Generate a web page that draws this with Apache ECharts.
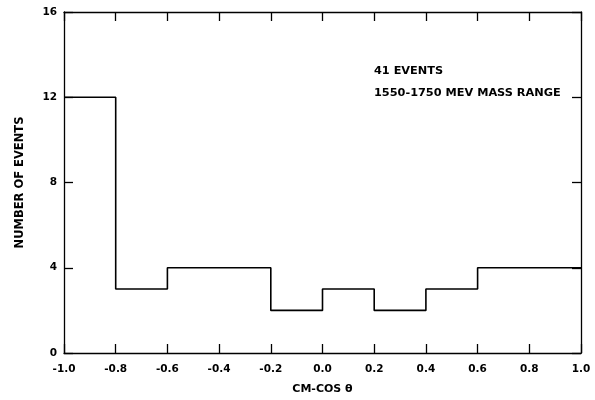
<!DOCTYPE html>
<html><head><meta charset="utf-8">
<script src="https://cdn.jsdelivr.net/npm/echarts@6/dist/echarts.min.js"></script>
<style>html,body{margin:0;padding:0;background:#fff}#c{width:595px;height:400px}</style>
</head><body><div id="c"></div>
<script>
const binEdges = [-1.0, -0.8, -0.6, -0.4, -0.2, 0.0, 0.2, 0.4, 0.6, 0.8, 1.0];
const counts = [12, 3, 4, 4, 2, 3, 2, 3, 4, 4];
const xTickLabels = ['-1.0','-0.8','-0.6','-0.4','-0.2','0.0','0.2','0.4','0.6','0.8','1.0'];
const yTickLabels = ['0','4','8','12','16'];
const annotations = ['41 EVENTS', '1550-1750 MEV MASS RANGE'];

const stepData = binEdges.map((e, i) => [e, counts[Math.min(i, counts.length - 1)]]);
const font = 'DejaVu Sans';
const chart = echarts.init(document.getElementById('c'), null, {renderer: 'canvas'});
function axisCommon() {
  return {
    axisLine: {show: true, onZero: false, lineStyle: {color: '#000', width: 1.3}},
    axisTick: {show: true, inside: true, length: 9, lineStyle: {color: '#000', width: 1.3}},
    splitLine: {show: false}
  };
}
chart.setOption({
  animation: false,
  backgroundColor: '#fff',
  grid: {left: 64, top: 12, width: 517, height: 344},
  xAxis: [
    Object.assign({type: 'value', min: -1, max: 1, interval: 0.2, position: 'bottom',
      name: 'CM-COS θ', nameLocation: 'middle', nameGap: 31,
      nameTextStyle: {fontFamily: font, fontWeight: 'bold', fontSize: 11, color: '#000'},
      axisLabel: {fontFamily: font, fontWeight: 'bold', fontSize: 10.5, color: '#000', margin: 11,
        formatter: v => xTickLabels[Math.round((v + 1) / 0.2)]}}, axisCommon()),
    Object.assign({type: 'value', min: -1, max: 1, interval: 0.2, position: 'top',
      axisLabel: {show: false}}, axisCommon())
  ],
  yAxis: [
    Object.assign({type: 'value', min: 0, max: 16, interval: 4, position: 'left',
      name: 'NUMBER OF EVENTS', nameLocation: 'middle', nameGap: 38,
      nameTextStyle: {fontFamily: font, fontWeight: 'bold', fontSize: 11.5, color: '#000'},
      axisLabel: {fontFamily: font, fontWeight: 'bold', fontSize: 10.5, color: '#000', margin: 7,
        formatter: v => yTickLabels[Math.round(v / 4)]}}, axisCommon()),
    Object.assign({type: 'value', min: 0, max: 16, interval: 4, position: 'right',
      axisLabel: {show: false}}, axisCommon())
  ],
  series: [{
    type: 'line', step: 'end', data: stepData, symbol: 'none',
    lineStyle: {color: '#000', width: 1.6}, clip: false
  }],
  graphic: [
    {type: 'text', left: 374, top: 66, style: {text: annotations[0], font: 'bold 11.3px "DejaVu Sans"', fill: '#000'}},
    {type: 'text', left: 374, top: 88, style: {text: annotations[1], font: 'bold 11.3px "DejaVu Sans"', fill: '#000'}}
  ]
});
</script></body></html>
